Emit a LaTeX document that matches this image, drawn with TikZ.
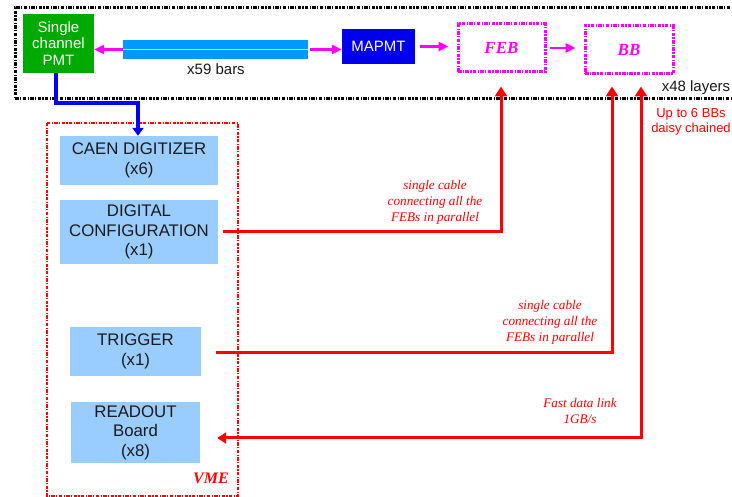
\documentclass[tikz,border=0pt]{standalone}
\usepackage{fontspec}
\setmainfont{Liberation Sans}
\newfontfamily\serf{Liberation Serif}
\usetikzlibrary{arrows.meta,calc}
\definecolor{boxblue}{HTML}{99CCFF}
\definecolor{barblue}{HTML}{0099FF}
\definecolor{pmtgreen}{HTML}{00AA00}
\definecolor{mapblue}{HTML}{0000EE}
\definecolor{mag}{HTML}{FF00FF}
\definecolor{txt}{HTML}{1A1A1A}
\begin{document}
\begin{tikzpicture}[x=1pt,y=1pt,
  dashdot/.style={dash pattern=on 3.5pt off 1.3pt on 1.3pt off 1.3pt},
  sansfont/.style={font=\fontsize{15}{18.5}\selectfont},
  bluebox/.style={fill=boxblue, inner sep=0pt, align=center, text=txt, font=\fontsize{16.8}{19.5}\selectfont},
  magbox/.style={draw=mag, line width=3pt, dashdot, inner sep=0pt},
  magarrow/.style={draw=mag, line width=2.5pt, -{Triangle[length=10pt,width=9pt]}},
  redline/.style={draw=red, line width=3pt},
  note/.style={text=red, align=center, font=\serf\itshape\fontsize{13.2}{16}\selectfont}
]
\useasboundingbox (0,0) rectangle (732,-497);
\clip (0,0) rectangle (732,-497);

% outer layer box (open to the right)
\draw[black, line width=3pt, dashdot] (745,-8) -- (15,-8) -- (15,-99) -- (745,-99);

% top row
\node[fill=pmtgreen, text=white, inner sep=0pt, minimum width=71pt, minimum height=59pt, align=center,
      font=\fontsize{15}{16.5}\selectfont] (pmt) at (58.5,-43.5) {Single\\channel\\PMT};
\node[fill=barblue, inner sep=0pt, minimum width=185pt, minimum height=19pt] (bars) at (215.5,-49.5) {};
\draw[white!70!barblue, line width=1.3pt] (bars.west) -- (bars.east);
\node[text=txt, sansfont] (barlbl) at (216,-69) {x59 bars};
\node[fill=mapblue, text=white, inner sep=0pt, minimum width=73pt, minimum height=35pt, sansfont] (mapmt) at (378.5,-46.5) {MAPMT};
\node[magbox, minimum width=87pt, minimum height=48pt, text=mag, font=\serf\bfseries\itshape\fontsize{17}{20}\selectfont] (feb) at (501.5,-48) {FEB};
\node[magbox, minimum width=88pt, minimum height=48pt, text=mag, font=\serf\bfseries\itshape\fontsize{17}{20}\selectfont] (bb) at (629,-50) {BB};
\node[text=txt, sansfont] (layers) at (696,-88) {x48 layers};
\node[text=red, align=center, font=\fontsize{13}{14.5}\selectfont] (daisy) at (691,-122) {Up to 6 BBs\\daisy chained};

\draw[magarrow] (bars.west) -- (bars.west -| pmt.east);
\draw[magarrow] ([xshift=2pt]bars.east) -- (bars.east -| mapmt.west);
\draw[magarrow] ([xshift=5pt]mapmt.east) -- ($(mapmt.east -| feb.west)+(-8,0)$);
\draw[magarrow] ([xshift=3pt]feb.east) -- ($(feb.east -| bb.west)+(-8,0)$);

% VME crate
\draw[red, line width=2.6pt, dashdot] (47,-123) rectangle (238,-496);
\node[text=red, font=\serf\bfseries\itshape\fontsize{16}{19}\selectfont] (vme) at (211,-478) {VME};
\node[bluebox, minimum width=158pt, minimum height=49pt] (caen) at (139,-160.5) {CAEN DIGITIZER\\(x6)};
\node[bluebox, minimum width=158pt, minimum height=64pt] (dig) at (139,-232) {DIGITAL\\CONFIGURATION\\(x1)};
\node[bluebox, minimum width=131pt, minimum height=49pt] (trig) at (135.5,-351.5) {TRIGGER\\(x1)};
\node[bluebox, minimum width=129pt, minimum height=61pt] (ro) at (135.5,-432.5) {READOUT\\Board\\(x8)};

% PMT to digitizer
\coordinate (bend) at (138,-103);
\draw[draw=blue, line width=3.5pt, -{Triangle[length=8pt,width=11pt]}]
  ([xshift=-2.5pt]pmt.south) |- (bend) -- (caen.north -| bend);

% red cables
\draw[redline, -{Triangle[length=10pt,width=12pt]}] ([xshift=5pt]dig.east) -| ([xshift=-0.5pt,yshift=-13pt]feb.south);
\draw[redline, -{Triangle[length=10pt,width=12pt]}] ([xshift=15pt,yshift=-1.5pt]trig.east) -| ([xshift=-17pt,yshift=-11pt]bb.south);
\draw[redline, {Triangle[length=10pt,width=12pt]}-{Triangle[length=9pt,width=11pt]}] ([xshift=12pt,yshift=-11pt]bb.south) |- ([xshift=17pt,yshift=-5.5pt]ro.east);

\node[note] (n1) at (435,-202) {single cable\\connecting all the\\FEBs in parallel};
\node[note] (n2) at (550,-322) {single cable\\connecting all the\\FEBs in parallel};
\node[note] (n3) at (580,-411) {Fast data link\\1GB/s};
\end{tikzpicture}
\end{document}
